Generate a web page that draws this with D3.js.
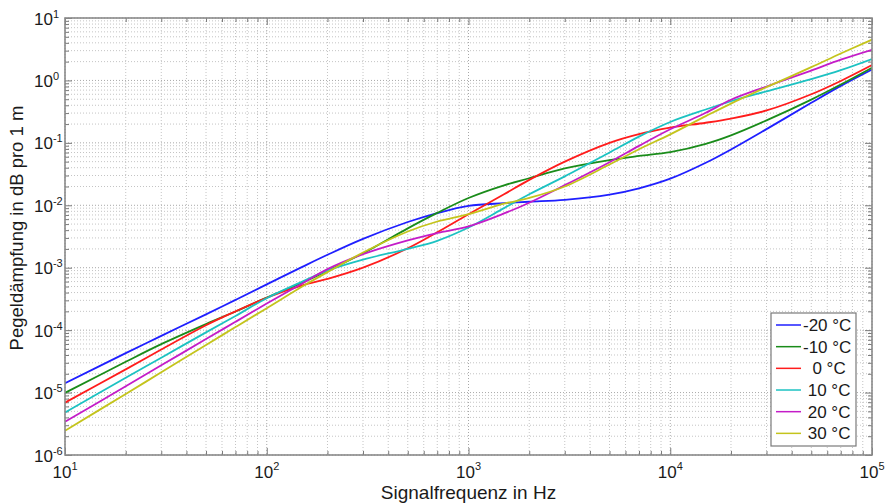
<!DOCTYPE html>
<html><head><meta charset="utf-8">
<script src="https://cdn.jsdelivr.net/npm/d3@7/dist/d3.min.js"></script>
<style>
body{margin:0;background:#fff}
svg{display:block;font-family:Arial,"Liberation Sans",Helvetica,sans-serif}
</style>
</head><body>
<svg id="chart" width="886" height="504"></svg>
<script>
// ---- data ----
const freq = [10, 20, 30, 50, 70, 100, 150, 200, 300, 500, 700, 1000, 1500, 2000, 3000, 5000, 7000, 10000, 15000, 20000, 30000, 50000, 70000, 100000];
const seriesNames = ["-20 °C", "-10 °C", "  0 °C", " 10 °C", " 20 °C", " 30 °C"];
const attM20 = [1.41e-5, 4.28e-5, 8.1e-5, 1.79e-4, 3.05e-4, 5.4e-4, 1.03e-3, 1.61e-3, 2.9e-3, 5.4e-3, 7.5e-3, 9.8e-3, 1.08e-2, 1.14e-2, 1.22e-2, 1.48e-2, 1.87e-2, 2.67e-2, 4.8e-2, 7.84e-2, 0.166, 0.438, 0.817, 1.5];
const attM10 = [9.9e-6, 3.11e-5, 5.96e-5, 1.25e-4, 1.99e-4, 3.33e-4, 5.77e-4, 8.88e-4, 1.7e-3, 4.27e-3, 7.55e-3, 1.31e-2, 2.09e-2, 2.71e-2, 3.9e-2, 5.3e-2, 6.17e-2, 7.1e-2, 9.64e-2, 0.132, 0.229, 0.493, 0.859, 1.6];
const attP0  = [6.9e-6, 2.35e-5, 4.9e-5, 1.2e-4, 2.0e-4, 3.3e-4, 5.2e-4, 6.6e-4, 1.0e-3, 2.05e-3, 3.7e-3, 7.2e-3, 1.5e-2, 2.55e-2, 5.0e-2, 0.1, 0.138, 0.175, 0.21, 0.245, 0.33, 0.6, 0.98, 1.76];
const attP10 = [4.8e-6, 1.73e-5, 3.62e-5, 9.2e-5, 1.69e-4, 3.25e-4, 6.0e-4, 9.0e-4, 1.35e-3, 2.0e-3, 2.7e-3, 4.4e-3, 9.0e-3, 1.5e-2, 2.9e-2, 7.0e-2, 0.126, 0.216, 0.342, 0.464, 0.669, 1.05, 1.46, 2.2];
const attP20 = [3.4e-6, 1.26e-5, 2.73e-5, 7.2e-5, 1.36e-4, 2.67e-4, 5.6e-4, 9.5e-4, 1.65e-3, 2.75e-3, 3.6e-3, 4.6e-3, 7.4e-3, 1.1e-2, 2.1e-2, 4.9e-2, 8.95e-2, 0.165, 0.303, 0.49, 0.8, 1.44, 2.15, 3.1];
const attP30 = [2.45e-6, 9.5e-6, 2.11e-5, 5.8e-5, 1.12e-4, 2.25e-4, 5.0e-4, 8.5e-4, 1.75e-3, 3.8e-3, 5.5e-3, 7.2e-3, 1.06e-2, 1.31e-2, 2.0e-2, 4.5e-2, 7.9e-2, 0.137, 0.268, 0.426, 0.78, 1.63, 2.7, 4.5];
const seriesValues = [attM20, attM10, attP0, attP10, attP20, attP30];
const seriesColors = ["#1f1fff", "#1a8c1a", "#ff1c1c", "#1cc2c2", "#c41cc8", "#c4c41c"];
const xTickExp = [1, 2, 3, 4, 5];
const yTickExp = [-6, -5, -4, -3, -2, -1, 0, 1];
const xLabel = "Signalfrequenz in Hz";
const yLabel = "Pegeldämpfung in dB pro 1 m";

// ---- layout ----
const L = 65, R = 872, T = 18, B = 455;
const svg = d3.select("#chart");
const x = d3.scaleLog().domain([10, 1e5]).range([L, R]);
const y = d3.scaleLog().domain([1e-6, 10]).range([B, T]);

const majorX = xTickExp.map(e => Math.pow(10, e));
const majorY = yTickExp.map(e => Math.pow(10, e));
const minorX = [], minorY = [];
xTickExp.slice(0, -1).forEach(e => { for (let k = 2; k <= 9; k++) minorX.push(k * Math.pow(10, e)); });
yTickExp.slice(0, -1).forEach(e => { for (let k = 2; k <= 9; k++) minorY.push(k * Math.pow(10, e)); });

// grid
const grid = svg.append("g");
grid.selectAll(".gxm").data(minorX).join("line")
  .attr("x1", d => x(d)).attr("x2", d => x(d)).attr("y1", T).attr("y2", B)
  .attr("stroke", "#c4c4c4").attr("stroke-dasharray", "1,2");
grid.selectAll(".gym").data(minorY).join("line")
  .attr("y1", d => y(d)).attr("y2", d => y(d)).attr("x1", L).attr("x2", R)
  .attr("stroke", "#c4c4c4").attr("stroke-dasharray", "1,2");
grid.selectAll(".gxM").data(majorX).join("line")
  .attr("x1", d => x(d)).attr("x2", d => x(d)).attr("y1", T).attr("y2", B)
  .attr("stroke", "#a8a8a8").attr("stroke-dasharray", "1,2");
grid.selectAll(".gyM").data(majorY).join("line")
  .attr("y1", d => y(d)).attr("y2", d => y(d)).attr("x1", L).attr("x2", R)
  .attr("stroke", "#a8a8a8").attr("stroke-dasharray", "1,2");

// ticks on all four sides (inward)
function ticks(gen, tr) {
  svg.append("g").attr("transform", tr).call(gen)
    .call(g => g.select(".domain").remove())
    .call(g => g.selectAll("line").attr("stroke", "#7a7a7a"));
}
ticks(d3.axisBottom(x).tickValues(majorX).tickSize(-7).tickFormat(""), `translate(0,${B})`);
ticks(d3.axisBottom(x).tickValues(minorX).tickSize(-4).tickFormat(""), `translate(0,${B})`);
ticks(d3.axisTop(x).tickValues(majorX).tickSize(-7).tickFormat(""), `translate(0,${T})`);
ticks(d3.axisTop(x).tickValues(minorX).tickSize(-4).tickFormat(""), `translate(0,${T})`);
ticks(d3.axisLeft(y).tickValues(majorY).tickSize(-7).tickFormat(""), `translate(${L},0)`);
ticks(d3.axisLeft(y).tickValues(minorY).tickSize(-4).tickFormat(""), `translate(${L},0)`);
ticks(d3.axisRight(y).tickValues(majorY).tickSize(-7).tickFormat(""), `translate(${R},0)`);
ticks(d3.axisRight(y).tickValues(minorY).tickSize(-4).tickFormat(""), `translate(${R},0)`);

// curves
svg.append("clipPath").attr("id", "plotclip")
  .append("rect").attr("x", L).attr("y", T).attr("width", R - L).attr("height", B - T);
const line = d3.line().x(d => x(d[0])).y(d => y(d[1])).curve(d3.curveCatmullRom.alpha(0.5));
const curves = svg.append("g").attr("clip-path", "url(#plotclip)");
seriesValues.forEach((vals, i) => {
  curves.append("path")
    .datum(freq.map((f, j) => [f, vals[j]]))
    .attr("d", line).attr("fill", "none")
    .attr("stroke", seriesColors[i]).attr("stroke-width", 1.8)
    .attr("stroke-linejoin", "round");
});

// axis box
svg.append("rect").attr("x", L).attr("y", T).attr("width", R - L).attr("height", B - T)
  .attr("fill", "none").attr("stroke", "#8a8a8a").attr("stroke-width", 1.6);

// tick labels
const xl = svg.append("g").attr("fill", "#1a1a1a");
xTickExp.forEach(e => {
  const t = xl.append("text").attr("x", x(Math.pow(10, e))).attr("y", 478).attr("text-anchor", "middle");
  t.append("tspan").attr("font-size", 17).text("10");
  t.append("tspan").attr("font-size", 11).attr("dy", -8).text(e);
});
yTickExp.forEach(e => {
  const t = xl.append("text").attr("x", 34).attr("y", y(Math.pow(10, e)) + 6.5);
  t.append("tspan").attr("font-size", 17).text("10");
  t.append("tspan").attr("font-size", 11).attr("dy", -7).text(e);
});

// axis labels
svg.append("text").attr("x", (L + R) / 2).attr("y", 499).attr("text-anchor", "middle")
  .attr("font-size", 19).attr("fill", "#1a1a1a").text(xLabel);
svg.append("text").attr("transform", `translate(23,228) rotate(-90)`)
  .attr("text-anchor", "middle").attr("font-size", 18.5).attr("fill", "#1a1a1a").text(yLabel);

// legend
const lg = svg.append("g");
lg.append("rect").attr("x", 771).attr("y", 313).attr("width", 85).attr("height", 133)
  .attr("fill", "#fff").attr("stroke", "#7a7a7a").attr("stroke-width", 1.2);
seriesNames.forEach((n, i) => {
  const cy = 325 + i * 21.67;
  lg.append("line").attr("x1", 776).attr("x2", 801).attr("y1", cy).attr("y2", cy)
    .attr("stroke", seriesColors[i]).attr("stroke-width", 1.5);
  lg.append("text").attr("x", 803).attr("y", cy + 6).attr("font-size", 17)
    .attr("fill", "#1a1a1a").style("white-space", "pre").text(n);
});
</script>
</body></html>
